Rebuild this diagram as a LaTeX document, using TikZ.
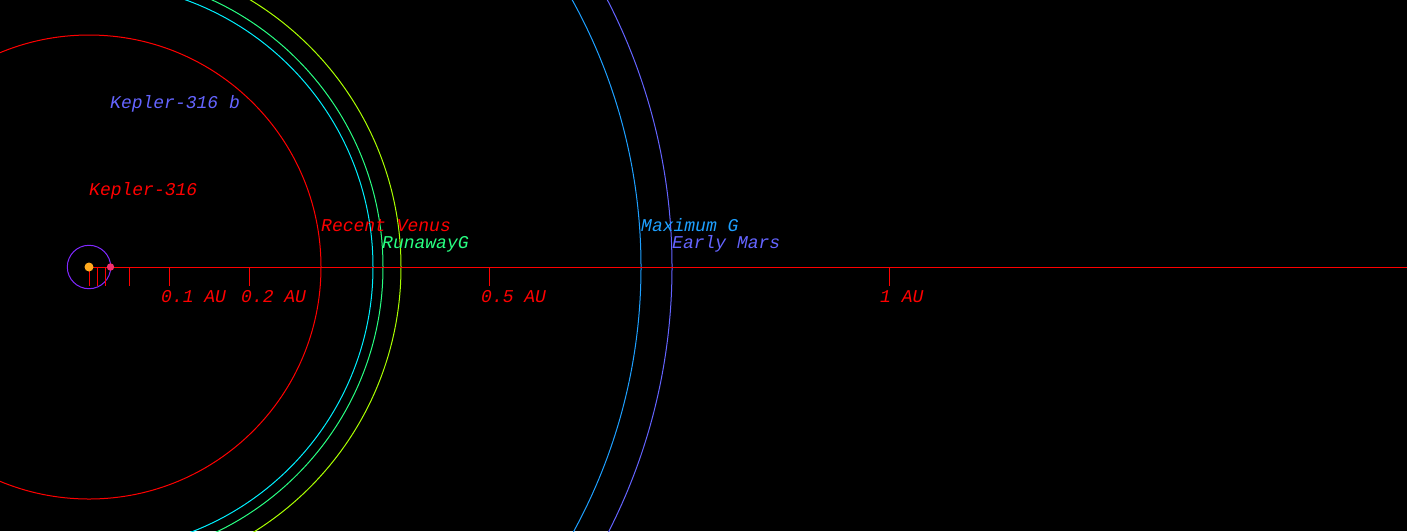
\documentclass[tikz,border=0pt]{standalone}
\usepackage{fontspec}
\newfontfamily\lab{Liberation Mono}
\definecolor{myred}{RGB}{255,0,0}
\definecolor{mycyan}{RGB}{0,240,255}
\definecolor{mygreen}{RGB}{40,255,130}
\definecolor{myyel}{RGB}{170,255,0}
\definecolor{myblue}{RGB}{30,160,255}
\definecolor{mypurp}{RGB}{100,100,255}
\definecolor{orbpurp}{RGB}{128,40,255}
\definecolor{starc}{RGB}{255,170,30}
\definecolor{planc}{RGB}{240,50,110}
\tikzset{lbl/.style={anchor=base west,inner sep=0pt,font=\lab\itshape\fontsize{18}{18}\selectfont},
orb/.style={line width=1pt},
tick/.style={myred,line width=1pt}}
\begin{document}
\begin{tikzpicture}[x=1pt,y=-1pt]
\fill[black] (0,0) rectangle (1407,531);
\useasboundingbox (0,0) rectangle (1407,531);
\clip (0,0) rectangle (1407,531);
\coordinate (star) at (89,267);
\draw[orb,myred] (star) circle[radius=232];
\draw[orb,mycyan] (star) circle[radius=284];
\draw[orb,mygreen] (star) circle[radius=294];
\draw[orb,myyel] (star) circle[radius=312];
\draw[orb,myblue] (star) circle[radius=552];
\draw[orb,mypurp] (star) circle[radius=583];
\draw[orb,orbpurp] (star) circle[radius=21.7];
\coordinate (axend) at (1407,267);
\draw[tick] (star) -- (axend);
\foreach \x in {89,97,105,129,169,249,489,889} \draw[tick] (\x,267) -- (\x,286);
\fill[starc] (star) circle[radius=4.5];
\fill[planc] (110.5,267) circle[radius=3.7];
\node[lbl,mypurp] (kb) at (110,108) {Kepler-316 b};
\node[lbl,myred] (ks) at (89,195) {Kepler-316};
\node[lbl,myred] (rv) at (321,231) {Recent Venus};
\node[lbl,mygreen] (rg) at (382,248) {RunawayG};
\node[lbl,myblue] (mg) at (641,231) {Maximum G};
\node[lbl,mypurp] (em) at (672,248) {Early Mars};
\node[lbl,myred] (a1) at (161,302) {0.1 AU};
\node[lbl,myred] (a2) at (241,302) {0.2 AU};
\node[lbl,myred] (a5) at (481,302) {0.5 AU};
\node[lbl,myred] (a10) at (880,302) {1 AU};
\end{tikzpicture}
\end{document}
